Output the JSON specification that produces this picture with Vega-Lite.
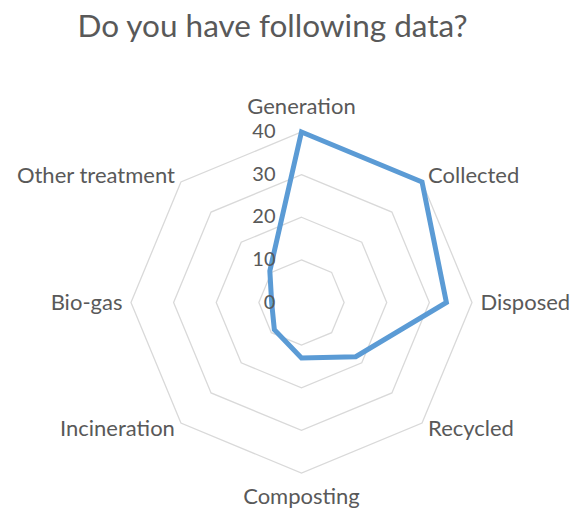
{
  "$schema": "https://vega.github.io/schema/vega-lite/v6.json",
  "width": 573,
  "height": 461,
  "autosize": {"type": "none"},
  "padding": {"left": 0, "right": 0, "top": 50, "bottom": 0},
  "background": "white",
  "title": {
    "text": "Do you have following data?",
    "font": "Lato",
    "fontSize": 31.5,
    "fontWeight": "normal",
    "color": "#595959",
    "anchor": "middle",
    "dx": -14,
    "offset": 7
  },
  "config": {"view": {"stroke": null}, "font": "Lato"},
  "datasets": {
    "answers": [
      {"category": "Generation", "value": 40},
      {"category": "Collected", "value": 40},
      {"category": "Disposed", "value": 34},
      {"category": "Recycled", "value": 18},
      {"category": "Composting", "value": 13},
      {"category": "Incineration", "value": 9},
      {"category": "Bio-gas", "value": 7},
      {"category": "Other treatment", "value": 10.5}
    ],
    "grid": [
      {"level": 10, "category": ["Generation", "Collected", "Disposed", "Recycled", "Composting", "Incineration", "Bio-gas", "Other treatment"]},
      {"level": 20, "category": ["Generation", "Collected", "Disposed", "Recycled", "Composting", "Incineration", "Bio-gas", "Other treatment"]},
      {"level": 30, "category": ["Generation", "Collected", "Disposed", "Recycled", "Composting", "Incineration", "Bio-gas", "Other treatment"]},
      {"level": 40, "category": ["Generation", "Collected", "Disposed", "Recycled", "Composting", "Incineration", "Bio-gas", "Other treatment"]}
    ],
    "ticks": [
      {"label": "0", "level": 0},
      {"label": "10", "level": 10},
      {"label": "20", "level": 20},
      {"label": "30", "level": 30},
      {"label": "40", "level": 40}
    ]
  },
  "encoding": {
    "x": {"field": "x", "type": "quantitative", "scale": {"domain": [-70.73, 63.70], "nice": false, "zero": false}, "axis": null},
    "y": {"field": "y", "type": "quantitative", "scale": {"domain": [-48.91, 59.24], "nice": false, "zero": false}, "axis": null}
  },
  "layer": [
    {
      "data": {"name": "grid"},
      "transform": [
        {"flatten": ["category"]},
        {"window": [{"op": "row_number", "as": "idx"}], "groupby": ["level"]},
        {"calculate": "(datum.idx - 1) * PI / 4", "as": "angle"},
        {"calculate": "datum.level * sin(datum.angle)", "as": "x"},
        {"calculate": "datum.level * cos(datum.angle)", "as": "y"}
      ],
      "mark": {"type": "line", "interpolate": "linear-closed", "stroke": "#D9D9D9", "strokeWidth": 1.3},
      "encoding": {
        "detail": {"field": "level", "type": "nominal"},
        "order": {"field": "idx", "type": "quantitative"}
      }
    },
    {
      "data": {"name": "answers"},
      "transform": [
        {"window": [{"op": "row_number", "as": "idx"}]},
        {"calculate": "(datum.idx - 1) * PI / 4", "as": "angle"},
        {"calculate": "datum.value * sin(datum.angle)", "as": "x"},
        {"calculate": "datum.value * cos(datum.angle)", "as": "y"}
      ],
      "mark": {"type": "line", "interpolate": "linear-closed", "stroke": "#5B9BD5", "strokeWidth": 5},
      "encoding": {
        "order": {"field": "idx", "type": "quantitative"}
      }
    },
    {
      "data": {"name": "ticks"},
      "transform": [
        {"calculate": "0", "as": "x"},
        {"calculate": "datum.level", "as": "y"}
      ],
      "mark": {"type": "text", "align": "right", "baseline": "middle", "dx": -26, "fontSize": 20, "color": "#595959", "font": "Lato"},
      "encoding": {
        "text": {"field": "label"}
      }
    },
    {
      "data": {"name": "answers"},
      "transform": [
        {"window": [{"op": "row_number", "as": "idx"}]},
        {"calculate": "(datum.idx - 1) * PI / 4", "as": "angle"},
        {"calculate": "42 * sin(datum.angle)", "as": "x"},
        {"calculate": "42 * cos(datum.angle)", "as": "y"},
        {"filter": "datum.idx == 1"}
      ],
      "mark": {"type": "text", "align": "center", "baseline": "alphabetic", "dy": -9.5, "fontSize": 22, "color": "#595959", "font": "Lato"},
      "encoding": {"text": {"field": "category"}}
    },
    {
      "data": {"name": "answers"},
      "transform": [
        {"window": [{"op": "row_number", "as": "idx"}]},
        {"calculate": "(datum.idx - 1) * PI / 4", "as": "angle"},
        {"calculate": "42 * sin(datum.angle)", "as": "x"},
        {"calculate": "42 * cos(datum.angle)", "as": "y"},
        {"filter": "datum.idx == 5"}
      ],
      "mark": {"type": "text", "align": "center", "baseline": "alphabetic", "dy": 22, "fontSize": 22, "color": "#595959", "font": "Lato"},
      "encoding": {"text": {"field": "category"}}
    },
    {
      "data": {"name": "answers"},
      "transform": [
        {"window": [{"op": "row_number", "as": "idx"}]},
        {"calculate": "(datum.idx - 1) * PI / 4", "as": "angle"},
        {"calculate": "42 * sin(datum.angle)", "as": "x"},
        {"calculate": "42 * cos(datum.angle)", "as": "y"},
        {"filter": "datum.idx >= 2 && datum.idx <= 4"}
      ],
      "mark": {"type": "text", "align": "left", "baseline": "middle", "fontSize": 22, "color": "#595959", "font": "Lato"},
      "encoding": {"text": {"field": "category"}}
    },
    {
      "data": {"name": "answers"},
      "transform": [
        {"window": [{"op": "row_number", "as": "idx"}]},
        {"calculate": "(datum.idx - 1) * PI / 4", "as": "angle"},
        {"calculate": "42 * sin(datum.angle)", "as": "x"},
        {"calculate": "42 * cos(datum.angle)", "as": "y"},
        {"filter": "datum.idx >= 6"}
      ],
      "mark": {"type": "text", "align": "right", "baseline": "middle", "fontSize": 22, "color": "#595959", "font": "Lato"},
      "encoding": {"text": {"field": "category"}}
    }
  ]
}
